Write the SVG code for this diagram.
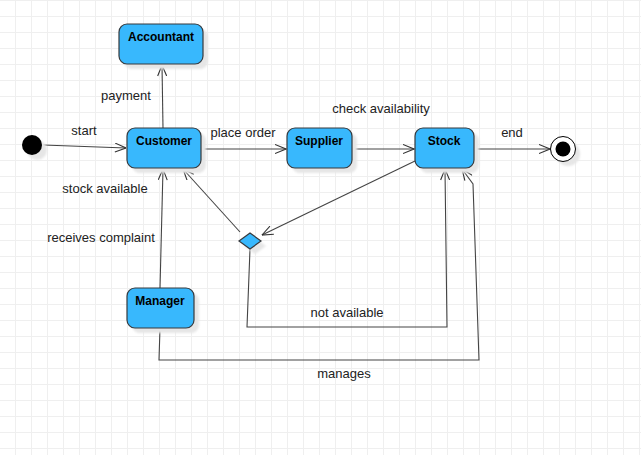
<svg xmlns="http://www.w3.org/2000/svg" width="641" height="455" viewBox="0 0 641 455">
<defs>
<pattern id="grid" x="15" y="0" width="16" height="16" patternUnits="userSpaceOnUse">
<path d="M0.5 0 V16 M0 0.5 H16" stroke="#efefef" stroke-width="1" fill="none"/>
</pattern>
<marker id="arr" viewBox="0 0 12 10" refX="11.5" refY="5" markerWidth="12" markerHeight="10" markerUnits="userSpaceOnUse" orient="auto">
<path d="M0.5 0.5 L11.5 5 L0.5 9.5" fill="none" stroke="#333" stroke-width="1.1"/>
</marker>
<filter id="sh" x="-20%" y="-20%" width="140%" height="140%">
<feGaussianBlur stdDeviation="1"/>
</filter>
</defs>
<style>
.node{fill:#38b8fd;stroke:#36393d;stroke-width:1.2}
.shadow{fill:#e6e6e6;filter:url(#sh)}
.nt{font-family:"Liberation Sans",Arial,sans-serif;font-size:12px;font-weight:bold;fill:#000;text-anchor:middle}
.lbl{font-family:"Liberation Sans",Arial,sans-serif;font-size:13px;fill:#222;text-anchor:middle}
.edge{fill:none;stroke:#444;stroke-width:1.1}
</style>
<rect width="641" height="455" fill="#ffffff"/>
<rect width="641" height="455" fill="url(#grid)"/>

<g id="connectors">
<path class="edge" d="M43 145 L126 148" marker-end="url(#arr)"/>
<path class="edge" d="M163 128 L162 65" marker-end="url(#arr)"/>
<path class="edge" d="M201 149 L286 149" marker-end="url(#arr)"/>
<path class="edge" d="M352 149 L414 149" marker-end="url(#arr)"/>
<path class="edge" d="M474 149 L550 149" marker-end="url(#arr)"/>
<path class="edge" d="M415 161 L262 235" marker-end="url(#arr)"/>
<path class="edge" d="M240 232 L183 169" marker-end="url(#arr)"/>
<path class="edge" d="M160 288 L163 169" marker-end="url(#arr)"/>
<path class="edge" d="M250 249 L247 327 L447 327 L445 169" marker-end="url(#arr)"/>
<path class="edge" d="M160 328 L159 360 L479 360 L473 184 L462 169" marker-end="url(#arr)"/>
<text class="lbl" x="84" y="135">start</text>
<text class="lbl" x="126" y="100">payment</text>
<text class="lbl" x="243" y="137">place order</text>
<text class="lbl" x="381" y="113">check availability</text>
<text class="lbl" x="512" y="137">end</text>
<text class="lbl" x="105" y="193">stock available</text>
<text class="lbl" x="101" y="242">receives complaint</text>
<text class="lbl" x="347" y="317">not available</text>
<text class="lbl" x="344" y="378">manages</text>
</g>

<g id="start">
<circle class="shadow" cx="37" cy="150" r="10"/>
<circle cx="32" cy="145" r="10" fill="#000"/>
</g>

<g id="end">
<circle class="shadow" cx="568" cy="154" r="12"/>
<circle cx="563" cy="149" r="12.5" fill="#fff" stroke="#000" stroke-width="1"/>
<circle cx="563" cy="149" r="7.5" fill="#000"/>
</g>

<g id="accountant">
<rect class="shadow" x="124" y="29" width="84" height="40" rx="8"/>
<rect class="node" x="119" y="24" width="84" height="40" rx="8"/>
<text class="nt" x="161" y="41">Accountant</text>
</g>

<g id="customer">
<rect class="shadow" x="132" y="133" width="74" height="40" rx="8"/>
<rect class="node" x="127" y="128" width="74" height="40" rx="8"/>
<text class="nt" x="164" y="145">Customer</text>
</g>

<g id="supplier">
<rect class="shadow" x="292" y="133" width="65" height="40" rx="8"/>
<rect class="node" x="287" y="128" width="65" height="40" rx="8"/>
<text class="nt" x="319" y="145">Supplier</text>
</g>

<g id="stock">
<rect class="shadow" x="420" y="133" width="59" height="40" rx="8"/>
<rect class="node" x="415" y="128" width="59" height="40" rx="8"/>
<text class="nt" x="444" y="145">Stock</text>
</g>

<g id="manager">
<rect class="shadow" x="132" y="293" width="67" height="40" rx="8"/>
<rect class="node" x="127" y="288" width="67" height="40" rx="8"/>
<text class="nt" x="160" y="305">Manager</text>
</g>

<g id="decision">
<polygon class="shadow" points="244,246 255,238 266,246 255,254"/>
<polygon class="node" points="239,241 250,233 261,241 250,249"/>
</g>
</svg>
